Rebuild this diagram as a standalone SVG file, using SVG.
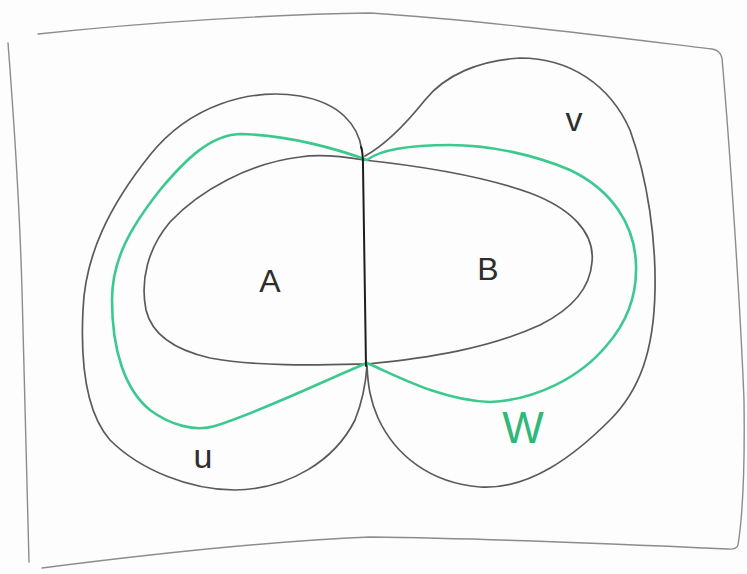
<svg xmlns="http://www.w3.org/2000/svg" width="747" height="574" viewBox="0 0 747 574">
<style>
.bg{fill:#fdfdfd}
.frame{fill:none;stroke:#8c8c8c;stroke-width:1.4;stroke-linecap:round;stroke-linejoin:round}
.curve{fill:none;stroke:#5a5a5a;stroke-width:1.7;stroke-linecap:round;stroke-linejoin:round}
.divider{fill:none;stroke:#1e1e1e;stroke-width:2;stroke-linecap:round}
.green{fill:none;stroke:#3cc98f;stroke-width:2.6;stroke-linecap:round;stroke-linejoin:round}
.lbl{font-family:"Liberation Sans",Arial,sans-serif;fill:#2e2e2e;text-anchor:middle}
.glbl{font-family:"Liberation Sans",Arial,sans-serif;fill:#2fb877;text-anchor:middle}
</style>
<rect class="bg" x="0" y="0" width="747" height="574"/>
<g id="frame">
<path class="frame" d="M 38,34 C 150,22 280,14 370,13 C 480,20 620,38 712,49 Q 720,50 722,58 C 730,150 740,300 744,400 C 745,470 742,520 738,545 Q 736,550 728,549 C 600,543 450,538 370,537 C 250,542 120,558 42,568"/>
<path class="frame" d="M 8,43 C 14,120 20,220 22,290 C 24,400 27,500 29,562"/>
</g>
<g id="u">
<path class="curve" d="M 362,150 C 358,125 340,103 300,96 C 250,88 190,105 150,155 C 110,205 85,255 83,310 C 80,370 88,415 110,440 C 140,470 190,490 235,490 C 290,489 335,460 355,420 C 363,400 366,380 367,366"/>
<text class="lbl" x="203" y="468" font-size="34">u</text>
</g>
<g id="v">
<path class="curve" d="M 365,156 C 385,145 405,125 425,100 C 445,75 480,60 520,58 C 570,58 610,85 630,130 C 648,180 656,240 655,290 C 654,350 640,390 610,420 C 575,455 530,490 480,487 C 430,483 395,455 378,418 C 370,400 368,385 367,366"/>
<text class="lbl" x="574" y="131" font-size="34">v</text>
</g>
<g id="A">
<path class="curve" d="M 364,160 C 340,156 320,154 300,157 C 250,163 200,190 170,222 C 148,248 140,280 146,310 C 152,335 175,350 210,358 C 260,367 320,365 367,364"/>
<text class="lbl" x="270" y="292" font-size="32">A</text>
</g>
<g id="B">
<path class="curve" d="M 364,160 C 420,166 480,175 530,193 C 570,208 595,232 592,262 C 590,290 570,310 540,325 C 490,348 430,358 367,364"/>
<text class="lbl" x="488" y="280" font-size="32">B</text>
</g>
<g id="W">
<path class="green" d="M 367,160 C 340,150 290,135 240,134 C 210,135 185,160 160,190 C 130,228 112,260 112,300 C 112,350 125,390 150,410 C 170,425 195,432 215,426 C 265,410 330,378 367,363 C 395,375 440,400 490,402 C 535,400 580,378 607,345 C 627,322 637,295 636,265 C 635,225 612,190 570,170 C 535,155 490,145 450,145 C 410,145 380,150 367,160 Z"/>
<text class="glbl" x="523" y="443" font-size="44">W</text>
</g>
<g id="connectors">
<path class="divider" d="M 361,147 C 363,152 363,158 363,166 L 366,366"/>
</g>
</svg>
